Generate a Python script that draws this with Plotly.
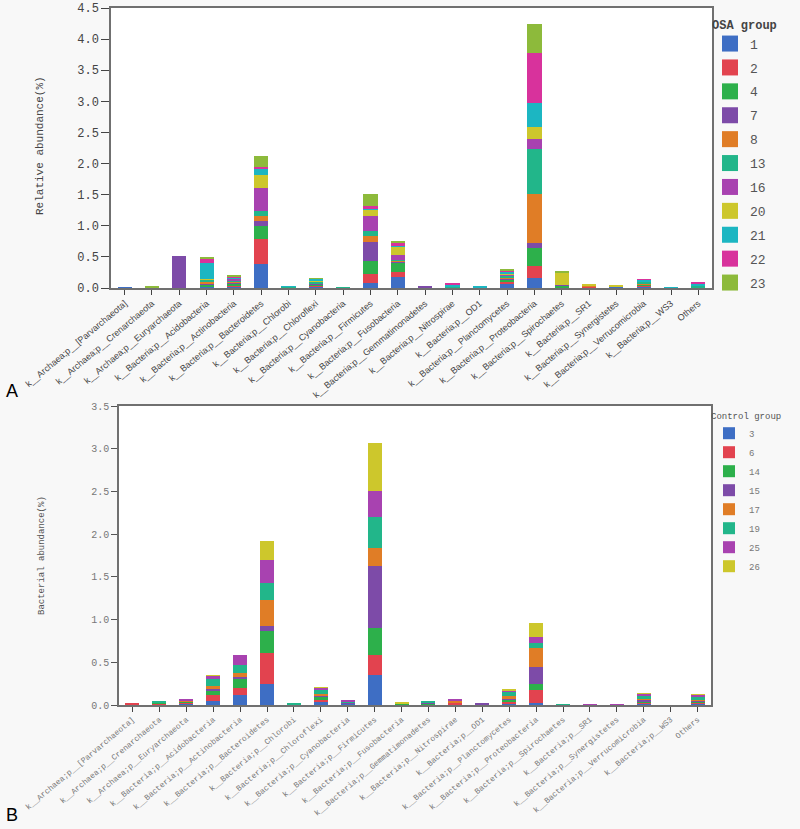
import plotly.graph_objects as go

categories = [
    "k__Archaea;p__[Parvarchaeota]", "k__Archaea;p__Crenarchaeota", "k__Archaea;p__Euryarchaeota",
    "k__Bacteria;p__Acidobacteria", "k__Bacteria;p__Actinobacteria", "k__Bacteria;p__Bacteroidetes",
    "k__Bacteria;p__Chlorobi", "k__Bacteria;p__Chloroflexi", "k__Bacteria;p__Cyanobacteria",
    "k__Bacteria;p__Firmicutes", "k__Bacteria;p__Fusobacteria", "k__Bacteria;p__Gemmatimonadetes",
    "k__Bacteria;p__Nitrospirae", "k__Bacteria;p__OD1", "k__Bacteria;p__Planctomycetes",
    "k__Bacteria;p__Proteobacteria", "k__Bacteria;p__Spirochaetes", "k__Bacteria;p__SR1",
    "k__Bacteria;p__Synergistetes", "k__Bacteria;p__Verrucomicrobia", "k__Bacteria;p__WS3", "Others",
]

# Panel A: OSA group (relative abundance, %)
osa_1  = [0.003, 0, 0, 0.02, 0.03, 0.38, 0, 0.03, 0, 0.08, 0.18, 0.005, 0, 0, 0.06, 0.155, 0.01, 0, 0.01, 0.02, 0, 0.01]
osa_2  = [0, 0, 0, 0.01, 0.01, 0.40, 0, 0.01, 0, 0.14, 0.08, 0.005, 0.01, 0, 0.04, 0.195, 0, 0.03, 0, 0.02, 0, 0]
osa_4  = [0, 0, 0, 0.02, 0.04, 0.21, 0.005, 0.02, 0.003, 0.22, 0.15, 0.005, 0, 0, 0.03, 0.30, 0.03, 0, 0, 0.01, 0, 0.005]
osa_7  = [0, 0, 0.52, 0.02, 0.01, 0.09, 0, 0.01, 0, 0.30, 0.01, 0.005, 0, 0, 0.02, 0.08, 0.01, 0, 0, 0, 0, 0]
osa_8  = [0, 0, 0, 0.02, 0.01, 0.07, 0, 0.01, 0, 0.09, 0.02, 0, 0, 0, 0.02, 0.78, 0, 0.01, 0, 0.02, 0, 0]
osa_13 = [0, 0, 0, 0.04, 0.02, 0.09, 0.012, 0.02, 0.012, 0.08, 0.01, 0, 0.01, 0.01, 0.03, 0.73, 0.005, 0, 0, 0.03, 0.01, 0.02]
osa_16 = [0, 0, 0, 0.01, 0.03, 0.36, 0, 0, 0, 0.25, 0.08, 0, 0, 0, 0.02, 0.15, 0, 0, 0, 0, 0, 0]
osa_20 = [0, 0.015, 0, 0.01, 0.01, 0.21, 0, 0.01, 0, 0.10, 0.14, 0, 0, 0, 0.01, 0.20, 0.19, 0.01, 0.04, 0, 0, 0]
osa_21 = [0, 0, 0, 0.25, 0.01, 0.10, 0.003, 0.04, 0, 0.02, 0.01, 0, 0.04, 0.01, 0.03, 0.39, 0, 0, 0, 0.03, 0.005, 0.04]
osa_22 = [0, 0, 0, 0.07, 0.01, 0.04, 0, 0.005, 0, 0.03, 0.04, 0, 0.01, 0, 0.02, 0.80, 0, 0, 0, 0.01, 0, 0.01]
osa_23 = [0, 0.005, 0, 0.03, 0.02, 0.17, 0, 0.005, 0, 0.20, 0.04, 0, 0, 0, 0.01, 0.47, 0.02, 0, 0, 0, 0, 0]

# Panel B: Control group (bacterial abundance, %)
ctl_3  = [0.005, 0.01, 0.02, 0.05, 0.12, 0.25, 0.01, 0.03, 0.02, 0.35, 0.005, 0.01, 0.01, 0.01, 0.02, 0.025, 0, 0, 0, 0.02, 0, 0.02]
ctl_6  = [0.015, 0.005, 0.01, 0.07, 0.08, 0.36, 0, 0.03, 0, 0.23, 0, 0, 0.015, 0, 0.01, 0.155, 0, 0, 0, 0.005, 0, 0.005]
ctl_14 = [0, 0.01, 0.01, 0.05, 0.11, 0.26, 0, 0.04, 0, 0.32, 0.01, 0.01, 0, 0, 0.03, 0.07, 0.005, 0, 0, 0.02, 0, 0.02]
ctl_15 = [0, 0.01, 0, 0.02, 0.02, 0.05, 0, 0.01, 0.01, 0.73, 0, 0.015, 0.01, 0.01, 0.01, 0.19, 0, 0, 0, 0.015, 0, 0.01]
ctl_17 = [0, 0, 0.01, 0.03, 0.05, 0.31, 0, 0.02, 0, 0.21, 0.005, 0, 0.02, 0, 0.03, 0.23, 0, 0, 0, 0.01, 0, 0.005]
ctl_19 = [0, 0.015, 0, 0.08, 0.09, 0.20, 0.01, 0.05, 0.01, 0.36, 0, 0.015, 0, 0, 0.06, 0.06, 0.005, 0, 0, 0.03, 0, 0.04]
ctl_25 = [0, 0, 0.02, 0.04, 0.12, 0.27, 0, 0.025, 0.01, 0.31, 0, 0, 0.005, 0, 0.01, 0.07, 0, 0.01, 0.01, 0.03, 0, 0.02]
ctl_26 = [0, 0, 0, 0.01, 0, 0.22, 0, 0.005, 0, 0.56, 0.02, 0, 0, 0, 0.01, 0.16, 0, 0, 0, 0.01, 0, 0.005]

osa_names = ["1", "2", "4", "7", "8", "13", "16", "20", "21", "22", "23"]
osa_series = [osa_1, osa_2, osa_4, osa_7, osa_8, osa_13, osa_16, osa_20, osa_21, osa_22, osa_23]
ctl_names = ["3", "6", "14", "15", "17", "19", "25", "26"]
ctl_series = [ctl_3, ctl_6, ctl_14, ctl_15, ctl_17, ctl_19, ctl_25, ctl_26]

palette = ["#3E6EC4", "#E2434F", "#2DB04B", "#7D4BA8", "#E07D26", "#22B68A",
           "#A842B0", "#CDC72C", "#1CB6C2", "#D8329C", "#8DBA3B"]

MONO = "Liberation Mono"
SANS = "Liberation Sans"

W, H = 800, 829


def px(x):
    return x / W


def py(y):
    return (H - y) / H


fig = go.Figure()

for i, (nm, vals) in enumerate(zip(osa_names, osa_series)):
    fig.add_trace(go.Bar(x=categories, y=vals, name=nm, marker=dict(color=palette[i], line=dict(width=0)),
                         xaxis="x", yaxis="y", showlegend=False))
    fig.add_trace(go.Scatter(x=[None], y=[None], mode="markers", name=nm, legend="legend",
                             legendgroup="a" + nm, xaxis="x", yaxis="y",
                             marker=dict(symbol="square", size=16, color=palette[i])))

for i, (nm, vals) in enumerate(zip(ctl_names, ctl_series)):
    fig.add_trace(go.Bar(x=categories, y=vals, name=nm, marker=dict(color=palette[i], line=dict(width=0)),
                         xaxis="x2", yaxis="y2", legend="legend2", legendgroup="b" + nm))

axis_line = dict(showline=True, linecolor="#707070", linewidth=1.5, mirror=True, showgrid=False,
                 zeroline=False, automargin=False)

fig.update_layout(
    width=W, height=H,
    margin=dict(l=0, r=0, t=0, b=0),
    paper_bgcolor="#F8F8F8", plot_bgcolor="#FFFFFF",
    barmode="stack", bargap=0.48,
    xaxis=dict(domain=[px(111), px(712)], anchor="y", type="category", tickangle=-40,
               ticks="outside", ticklen=5, tickcolor="#444",
               tickfont=dict(family=SANS, size=9, color="#444"), **axis_line),
    yaxis=dict(domain=[py(288), py(8)], anchor="x", range=[0, 4.5], dtick=0.5,
               tickformat=".1f", ticks="outside", ticklen=8, tickcolor="#444",
               tickfont=dict(family=MONO, size=12, color="#444"), **axis_line),
    xaxis2=dict(domain=[px(119), px(711)], anchor="y2", type="category", tickangle=-40,
                ticks="outside", ticklen=5, tickcolor="#444",
                tickfont=dict(family=MONO, size=8, color="#777"), **axis_line),
    yaxis2=dict(domain=[py(705), py(406)], anchor="x2", range=[0, 3.5], dtick=0.5,
                tickformat=".1f", ticks="outside", ticklen=6, tickcolor="#555",
                tickfont=dict(family=MONO, size=10, color="#777"), **axis_line),
    legend=dict(x=px(710), xanchor="left", y=py(13), yanchor="top",
                bgcolor="rgba(0,0,0,0)", tracegroupgap=4, itemsizing="trace",
                title=dict(text="<b>OSA group</b>", font=dict(family=MONO, size=12, color="#444")),
                font=dict(family=MONO, size=13, color="#555")),
    legend2=dict(x=px(709), xanchor="left", y=py(407), yanchor="top",
                 bgcolor="rgba(0,0,0,0)", tracegroupgap=0,
                 title=dict(text="Control group", font=dict(family=MONO, size=9, color="#555")),
                 font=dict(family=MONO, size=9, color="#777")),
    annotations=[
        dict(text="Relative abundance(%)", x=px(40), y=py(146), xref="paper", yref="paper",
             textangle=-90, showarrow=False, xanchor="center", yanchor="middle",
             font=dict(family=MONO, size=11, color="#444")),
        dict(text="Bacterial abundance(%)", x=px(42), y=py(556), xref="paper", yref="paper",
             textangle=-90, showarrow=False, xanchor="center", yanchor="middle",
             font=dict(family=MONO, size=9, color="#555")),
        dict(text="A", x=px(4), y=py(391), xref="paper", yref="paper", xanchor="left", yanchor="middle",
             showarrow=False, font=dict(family=SANS, size=18, color="#000")),
        dict(text="B", x=px(4), y=py(815), xref="paper", yref="paper", xanchor="left", yanchor="middle",
             showarrow=False, font=dict(family=SANS, size=18, color="#000")),
    ],
)

fig.write_html("out.html", config={"displayModeBar": False},
               post_script="document.body.style.margin='0px';")
